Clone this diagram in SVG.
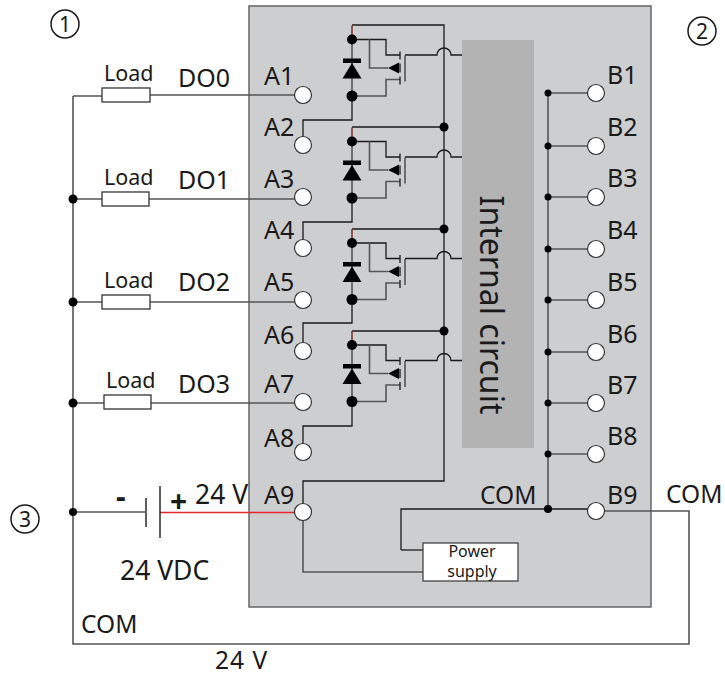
<svg xmlns="http://www.w3.org/2000/svg" xmlns:xlink="http://www.w3.org/1999/xlink" width="725" height="677" viewBox="0 0 725 677">
<style>
text{font-family:"Noto Sans","Open Sans",sans-serif;fill:#1a1a1a}
.t{font-size:25px}
.c{font-size:24.500px}
.v{font-size:26.500px}
.l{font-size:21.500px}
.s{font-size:16px}
.w{fill:none;stroke:#1a1a1a;stroke-width:1.3}
.g{fill:none;stroke:#555;stroke-width:1.6}
.pad{fill:#fff;stroke:#333;stroke-width:1.2}
.dot{fill:#000}
.load{fill:#fff;stroke:#333;stroke-width:1.3}
</style>
<defs>
<g id="cell">
<path class="w" d="M352 -14V0" style="stroke:#7a2a2a;stroke-width:1.5"/>
<path class="g" d="M352 0V56.500"/>
<path class="w" d="M352 0H386V15.500H400"/>
<path class="g" d="M369.500 0V28.500H388"/>
<path class="g" d="M352 56.500H386V40H400"/>
<path class="w" d="M400 12V20M400 37V45M400 24V33"/>
<path class="g" d="M405 16V42"/>
<path class="w" d="M405 15.500H437A7 7 0 0 1 451 15.500H462"/>
<path class="dot" d="M388 28.500L399 23V34Z"/>
<rect x="343" y="19" width="18" height="4.500" class="dot"/>
<path class="dot" d="M352 23.500L361.500 39H342.500Z"/>
<circle class="dot" cx="352" cy="0" r="5"/>
<circle class="dot" cx="352" cy="56.500" r="5.500"/>
</g>
</defs>
<rect id="module" x="249" y="6" width="402" height="601" fill="#cdced0" stroke="#666" stroke-width="1.500"/>
<g id="internal"><rect x="462" y="40" width="72" height="408" fill="#b3b3b3"/>
<text transform="translate(480,305) rotate(90)" font-size="32" text-anchor="middle">Internal circuit</text></g>
<g id="connectors">
<path class="g" d="M73 96V644H689V511H603"/>
<path class="g" d="M73 96H102M150 95H297"/>
<path class="g" d="M73 199H102M149 199H297"/>
<path class="g" d="M73 302H102M150 302H297"/>
<path class="g" d="M73 403H104M151 403H297"/>
<path class="g" d="M73 512H145"/>
<path d="M160 512.500H297" fill="none" stroke="#e8262c" stroke-width="1.300"/>
<path class="w" d="M146 498V527M160 486V538" style="stroke-width:1.400"/>
<path class="w" d="M352 25H444V481H303V505"/>
<path class="g" d="M303 517V572H423"/>
<path class="w" d="M352 127H444M352 229H444M352 331H444"/>
<path class="w" d="M303 138V120H352V96M303 240V222H352V198M303 343V323H352V299M303 445V426H352V401"/>
<path class="g" d="M548 93V509"/>
<path class="g" d="M548 93H590M548 146H590M548 197H590M548 249H590M548 300H590M548 352H590M548 403H590M548 454H590"/>
<path class="w" d="M401 550V509H590"/>
<path class="w" d="M401 550H423"/>
<use xlink:href="#cell" href="#cell" y="39.500"/>
<use xlink:href="#cell" href="#cell" y="141.500"/>
<use xlink:href="#cell" href="#cell" y="243"/>
<use xlink:href="#cell" href="#cell" y="345"/>
<g class="dot"><circle cx="444" cy="127" r="4.500"/><circle cx="444" cy="229" r="4.500"/><circle cx="444" cy="331" r="4.500"/>
<circle cx="73" cy="199" r="4.500"/><circle cx="73" cy="302" r="4.500"/><circle cx="73" cy="403" r="4.500"/><circle cx="73" cy="512" r="4"/>
<circle cx="548" cy="93" r="3.500"/><circle cx="548" cy="146" r="3.500"/><circle cx="548" cy="197" r="3.500"/><circle cx="548" cy="249" r="3.500"/><circle cx="548" cy="300" r="3.500"/><circle cx="548" cy="352" r="3.500"/><circle cx="548" cy="403" r="3.500"/><circle cx="548" cy="454" r="3.500"/><circle cx="548" cy="509" r="4"/></g>
</g>
<g id="pads">
<circle class="pad" cx="303" cy="95" r="8.500"/><circle class="pad" cx="303" cy="145" r="8.500"/><circle class="pad" cx="303" cy="197" r="8.500"/><circle class="pad" cx="303" cy="248" r="8.500"/><circle class="pad" cx="303" cy="300" r="8.500"/><circle class="pad" cx="303" cy="351" r="8.500"/><circle class="pad" cx="303" cy="402" r="8.500"/><circle class="pad" cx="303" cy="452" r="8.500"/><circle class="pad" cx="303" cy="512" r="8.500"/>
<circle class="pad" cx="596" cy="93" r="8.500"/><circle class="pad" cx="596" cy="146" r="8.500"/><circle class="pad" cx="596" cy="197" r="8.500"/><circle class="pad" cx="596" cy="249" r="8.500"/><circle class="pad" cx="596" cy="300" r="8.500"/><circle class="pad" cx="596" cy="352" r="8.500"/><circle class="pad" cx="596" cy="403" r="8.500"/><circle class="pad" cx="596" cy="454" r="8.500"/><circle class="pad" cx="596" cy="511" r="8.500"/>
</g>
<g id="loads">
<rect class="load" x="102" y="88" width="48" height="14"/><rect class="load" x="102" y="192" width="47" height="14"/><rect class="load" x="102" y="295" width="48" height="14"/><rect class="load" x="104" y="395" width="47" height="14"/>
<text class="l" x="104" y="81">Load</text><text class="l" x="104" y="185">Load</text><text class="l" x="104" y="288">Load</text><text class="l" x="106" y="388">Load</text>
<text class="t" x="178" y="87">DO0</text><text class="t" x="178" y="189">DO1</text><text class="t" x="178" y="291">DO2</text><text class="t" x="178" y="393">DO3</text>
</g>
<g id="labels-a">
<text class="t" x="264" y="85">A1</text><text class="t" x="264" y="136">A2</text><text class="t" x="264" y="188">A3</text><text class="t" x="264" y="239">A4</text><text class="t" x="264" y="291">A5</text><text class="t" x="264" y="344">A6</text><text class="t" x="264" y="393">A7</text><text class="t" x="264" y="447">A8</text><text class="t" x="264" y="504">A9</text>
</g>
<g id="labels-b">
<text class="t" x="607" y="84">B1</text><text class="t" x="607" y="136">B2</text><text class="t" x="607" y="187">B3</text><text class="t" x="607" y="239">B4</text><text class="t" x="607" y="291">B5</text><text class="t" x="607" y="343">B6</text><text class="t" x="607" y="394">B7</text><text class="t" x="607" y="445">B8</text><text class="t" x="607" y="504">B9</text>
</g>
<g id="power"><rect x="423" y="543" width="95" height="38" fill="#fff" stroke="#444" stroke-width="1.300"/>
<text class="s" x="472" y="557" text-anchor="middle">Power</text><text class="s" x="472" y="577" text-anchor="middle">supply</text></g>
<g id="misc">
<text class="c" x="480" y="504">COM</text><text class="c" x="666" y="503">COM</text><text class="c" x="81" y="633">COM</text>
<text class="c" x="215" y="669" letter-spacing="1">24 V</text><text class="v" x="120" y="580">24 VDC</text><text class="v" x="195" y="504">24 V</text>
<text x="116" y="507" font-size="30" font-weight="bold">-</text><text x="170" y="512" font-size="30" font-weight="bold">+</text>
<g font-size="21" text-anchor="middle"><circle cx="65" cy="24" r="14" fill="none" stroke="#1a1a1a" stroke-width="1.500"/><text x="65" y="32">1</text>
<circle cx="702" cy="31" r="14" fill="none" stroke="#1a1a1a" stroke-width="1.500"/><text x="702" y="39">2</text>
<circle cx="25" cy="519" r="14" fill="none" stroke="#1a1a1a" stroke-width="1.500"/><text x="25" y="527">3</text></g>
</g>
</svg>
